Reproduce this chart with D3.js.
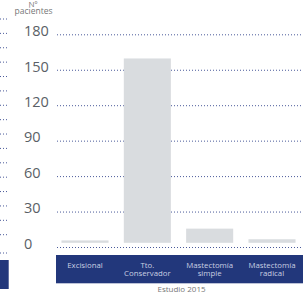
<!DOCTYPE html>
<html>
<head>
<meta charset="utf-8">
<script src="https://cdn.jsdelivr.net/npm/d3@7"></script>
<style>
  body { margin: 0; background: #fff; }
  svg { display: block; font-family: "Open Sans", sans-serif; }
</style>
</head>
<body>
<svg></svg>
<script>
// Data
const categories = [["Excisional"], ["Tto.", "Conservador"], ["Mastectomía", "simple"], ["Mastectomía", "radical"]];
const patients = [2, 156, 12, 3];
const yTicks = [0, 30, 60, 90, 120, 150, 180];
const leftTicks = [0, 10, 20, 30, 40, 50, 60, 70, 80, 90, 100, 110, 120, 130, 140, 150];

const width = 303, height = 296;
const svg = d3.select("svg").attr("width", width).attr("height", height);

// partial neighbour chart cut at the left edge
const yLeft = d3.scaleLinear().domain([0, 150]).range([234.7, 19]);
svg.append("g").selectAll("line")
    .data(leftTicks)
    .enter().append("line")
    .attr("x1", 0).attr("x2", 8)
    .attr("y1", d => yLeft(d)).attr("y2", d => yLeft(d))
    .attr("stroke", "#4a5a9a")
    .attr("stroke-dasharray", "1,2");
svg.append("line")
    .attr("x1", 0).attr("x2", 8).attr("y1", 253).attr("y2", 253)
    .attr("stroke", "#4a5a9a").attr("stroke-dasharray", "1,2");
svg.append("rect")
    .attr("x", 0).attr("y", 260).attr("width", 8.7).attr("height", 29)
    .attr("fill", "#22377b");

// scales
const x = d3.scaleBand()
    .domain(categories.map(d => d.join(" ")))
    .range([54, 303])
    .paddingInner(0.245)
    .paddingOuter(0.12);

const y = d3.scaleLinear().domain([0, 180]).range([247.5, 34.8]);

// gridlines
svg.append("g").selectAll("line")
    .data(yTicks)
    .enter().append("line")
    .attr("x1", 57).attr("x2", width)
    .attr("y1", d => y(d)).attr("y2", d => y(d))
    .attr("stroke", "#4a5a9a")
    .attr("stroke-dasharray", "1,2");

// tick labels
svg.append("g").selectAll("text")
    .data(yTicks)
    .enter().append("text")
    .attr("x", 24)
    .attr("y", d => y(d) + 1.3)
    .attr("font-size", 14.5)
    .attr("font-weight", 400)
    .attr("fill", "#5a5f66")
    .text(d => d);

// axis title
svg.append("text")
    .attr("x", 33).attr("y", 6.5)
    .attr("text-anchor", "middle")
    .attr("font-size", 8).attr("fill", "#777")
    .text("Nº");
svg.append("text")
    .attr("x", 33.5).attr("y", 14)
    .attr("text-anchor", "middle")
    .attr("font-size", 8.5).attr("fill", "#777")
    .text("pacientes");

// bars (sit slightly above the zero line)
svg.append("g")
    .attr("transform", "translate(0,-4.7)")
    .selectAll("rect")
    .data(patients)
    .enter().append("rect")
    .attr("x", (d, i) => x(categories[i].join(" ")))
    .attr("width", x.bandwidth())
    .attr("y", d => y(d))
    .attr("height", d => y(0) - y(d))
    .attr("fill", "#d9dcdf");

// category band
svg.append("rect")
    .attr("x", 56).attr("y", 255)
    .attr("width", width - 56).attr("height", 28.3)
    .attr("fill", "#22377b");

const catLabels = svg.append("g").selectAll("text")
    .data(categories)
    .enter().append("text")
    .attr("text-anchor", "middle")
    .attr("font-size", 7.8)
    .attr("fill", "#c9cfe2")
    .attr("transform", d => `translate(${x(d.join(" ")) + x.bandwidth() / 2},267.6)`);
catLabels.selectAll("tspan")
    .data(d => d)
    .enter().append("tspan")
    .attr("x", 0)
    .attr("dy", (d, i) => i === 0 ? 0 : 8)
    .text(d => d);

// footer
svg.append("text")
    .attr("x", 181.5).attr("y", 291.5)
    .attr("text-anchor", "middle")
    .attr("font-size", 8).attr("fill", "#777")
    .text("Estudio 2015");
</script>
</body>
</html>
